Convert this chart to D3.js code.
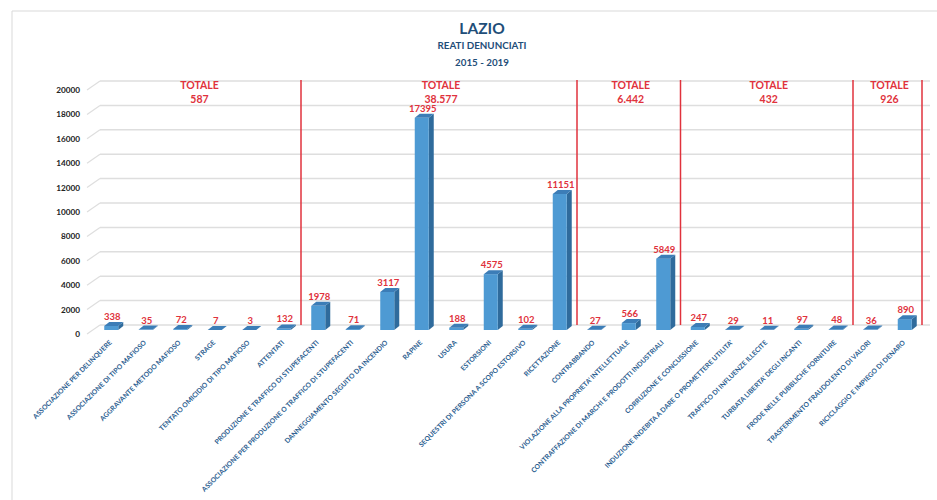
<!DOCTYPE html>
<html>
<head>
<meta charset="utf-8">
<script src="https://cdn.jsdelivr.net/npm/d3@7"></script>
<style>
  body { margin: 0; background: #fff; }
  svg { font-family: Lato, "Open Sans", sans-serif; }
</style>
</head>
<body>
<svg id="chart" width="937" height="500"></svg>
<script>
// data
var categories = [
  "ASSOCIAZIONE PER DELINQUERE", "ASSOCIAZIONE DI TIPO MAFIOSO", "AGGRAVANTE METODO MAFIOSO",
  "STRAGE", "TENTATO OMICIDIO DI TIPO MAFIOSO", "ATTENTATI",
  "PRODUZIONE E TRAFFICO DI STUPEFACENTI", "ASSOCIAZIONE PER PRODUZIONE O TRAFFICO DI STUPEFACENTI",
  "DANNEGGIAMENTO SEGUITO DA INCENDIO", "RAPINE", "USURA", "ESTORSIONI",
  "SEQUESTRI DI PERSONA A SCOPO ESTORSIVO", "RICETTAZIONE",
  "CONTRABBANDO", "VIOLAZIONE ALLA PROPRIETA' INTELLETTUALE", "CONTRAFFAZIONE DI MARCHI E PRODOTTI INDUSTRIALI",
  "CORRUZIONE E CONCUSSIONE", "INDUZIONE INDEBITA A DARE O PROMETTERE UTILITA'", "TRAFFICO DI INFLUENZE ILLECITE",
  "TURBATA LIBERTA' DEGLI INCANTI", "FRODE NELLE PUBBLICHE FORNITURE",
  "TRASFERIMENTO FRAUDOLENTO DI VALORI", "RICICLAGGIO E IMPIEGO DI DENARO"
];
var values = [338, 35, 72, 7, 3, 132, 1978, 71, 3117, 17395, 188, 4575, 102, 11151,
              27, 566, 5849, 247, 29, 11, 97, 48, 36, 890];
// groups: index of first and last category, label of the total
var groupStart = [0, 6, 14, 17, 22];
var groupEnd   = [5, 13, 16, 21, 23];
var groupTotals = ["587", "38.577", "6.442", "432", "926"];
var yTicks = [0, 2000, 4000, 6000, 8000, 10000, 12000, 14000, 16000, 18000, 20000];

var svg = d3.select("#chart");

var x = d3.scaleBand().domain(d3.range(categories.length)).range([94, 922]).paddingInner(0.6).paddingOuter(0.3);
var y = d3.scaleLinear().domain([0, 20000]).range([330, 86]);

var depthX = 5, depthY = -4;
var barW = 14;
var red = "#e0323c";
function cx(i) { return x(i) + x.bandwidth() / 2; }

// frame
svg.append("path")
  .attr("d", "M12,500 L12,11 L937,11")
  .attr("fill", "none").attr("stroke", "#d9d9d9").attr("stroke-width", 1);

// titles
var titleColor = "#1f4e79";
svg.append("text").attr("x", 482).attr("y", 34).attr("text-anchor", "middle")
  .attr("font-size", 15.5).attr("font-weight", "bold").attr("fill", titleColor).text("LAZIO");
svg.append("text").attr("x", 482).attr("y", 49).attr("text-anchor", "middle")
  .attr("font-size", 9.8).attr("font-weight", "bold").attr("fill", titleColor).text("REATI DENUNCIATI");
svg.append("text").attr("x", 482).attr("y", 65.5).attr("text-anchor", "middle")
  .attr("font-size", 9.8).attr("font-weight", "bold").attr("fill", titleColor).text("2015 - 2019");

// gridlines (back wall) and slanted side wall lines
var grid = svg.append("g").attr("class", "grid");
grid.selectAll("line.back").data(yTicks).enter().append("line")
  .attr("class", "back")
  .attr("x1", 100).attr("x2", 930)
  .attr("y1", function(d) { return y(d) - 5; })
  .attr("y2", function(d) { return y(d) - 5; })
  .attr("stroke", "#dedede").attr("stroke-width", 1.5);
grid.selectAll("line.side").data(yTicks).enter().append("line")
  .attr("class", "side")
  .attr("x1", 87).attr("x2", 100)
  .attr("y1", function(d) { return y(d) + 4; })
  .attr("y2", function(d) { return y(d) - 5; })
  .attr("stroke", "#dedede").attr("stroke-width", 1.2);

// y axis labels
svg.selectAll("text.ytick").data(yTicks).enter().append("text")
  .attr("class", "ytick")
  .attr("x", 80).attr("y", function(d) { return y(d) + 7; })
  .attr("text-anchor", "end")
  .attr("font-size", 8.2).attr("font-weight", "bold").attr("fill", "#222")
  .text(function(d) { return d; });

// red separators
var sepX = groupEnd.map(function(e) { return x(e) + x.step() - x.step() * 0.3; });
svg.selectAll("line.sep").data(sepX).enter().append("line")
  .attr("class", "sep")
  .attr("x1", function(d) { return d; }).attr("x2", function(d) { return d; })
  .attr("y1", 80).attr("y2", 325)
  .attr("stroke", red).attr("stroke-width", 1.5);

// totals
var totG = svg.selectAll("g.total").data(groupTotals).enter().append("g").attr("class", "total")
  .attr("transform", function(d, i) {
    return "translate(" + ((cx(groupStart[i]) + cx(groupEnd[i])) / 2 + 2) + ",0)";
  });
totG.append("text").attr("y", 89).attr("text-anchor", "middle")
  .attr("font-size", 10.5).attr("font-weight", "bold").attr("fill", red).text("TOTALE");
totG.append("text").attr("y", 103).attr("text-anchor", "middle")
  .attr("font-size", 10.5).attr("font-weight", "bold").attr("fill", red)
  .text(function(d) { return d; });

// 3D bars
var bars = svg.selectAll("g.bar").data(values).enter().append("g").attr("class", "bar");
bars.append("path") // side
  .attr("fill", "#2f6b9c")
  .attr("d", function(d, i) {
    var x1 = cx(i) + barW / 2, y0 = y(0), y1 = y(d);
    return "M" + x1 + "," + y0 + "L" + x1 + "," + y1 + "L" + (x1 + depthX) + "," + (y1 + depthY) +
      "L" + (x1 + depthX) + "," + (y0 + depthY) + "Z";
  });
bars.append("rect") // front
  .attr("fill", "#4e9ad3")
  .attr("x", function(d, i) { return cx(i) - barW / 2; })
  .attr("y", function(d) { return y(d); })
  .attr("width", barW)
  .attr("height", function(d) { return y(0) - y(d); });
bars.append("path") // top
  .attr("fill", "#3c7db7")
  .attr("d", function(d, i) {
    var x0 = cx(i) - barW / 2, y1 = y(d);
    return "M" + x0 + "," + y1 + "L" + (x0 + barW) + "," + y1 + "L" + (x0 + barW + depthX) + "," + (y1 + depthY) +
      "L" + (x0 + depthX) + "," + (y1 + depthY) + "Z";
  });

// value labels
svg.selectAll("text.val").data(values).enter().append("text")
  .attr("class", "val")
  .attr("x", function(d, i) { return cx(i) + 1; })
  .attr("y", function(d) { return y(d) + depthY - 2; })
  .attr("text-anchor", "middle")
  .attr("font-size", 9.5).attr("font-weight", "bold").attr("fill", red)
  .text(function(d) { return d; });

// category labels
svg.selectAll("text.cat").data(categories).enter().append("text")
  .attr("class", "cat")
  .attr("transform", function(d, i) { return "translate(" + (cx(i) + 1) + ",343) rotate(-45)"; })
  .attr("text-anchor", "end")
  .attr("font-size", 6.8).attr("font-weight", "bold").attr("fill", "#2a5d8f")
  .text(function(d) { return d; });
</script>
</body>
</html>
